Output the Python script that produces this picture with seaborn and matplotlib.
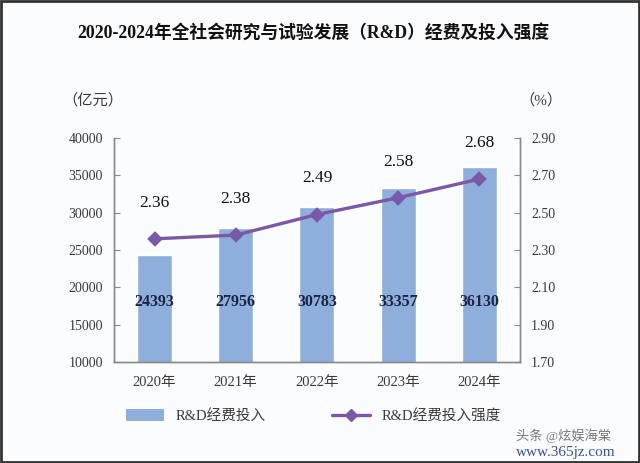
import pandas as pd
import seaborn as sns
import matplotlib.pyplot as plt
from matplotlib.patches import Patch, Rectangle
from matplotlib.lines import Line2D

sns.set_style("white")
plt.rcParams['font.family'] = ['Liberation Serif', 'Noto Sans CJK SC', 'DejaVu Sans']

years = ["2020年", "2021年", "2022年", "2023年", "2024年"]
rd_spend = [24393, 27956, 30783, 33357, 36130]      # 亿元
rd_intensity = [2.36, 2.38, 2.49, 2.58, 2.68]       # %

df = pd.DataFrame({"year": years, "spend": rd_spend, "intensity": rd_intensity})

bar_color = "#8eaedb"
line_color = "#7a5aa6"
text_gray = "#3a3a3a"

fig = plt.figure(figsize=(6.4, 4.63), dpi=100, facecolor="#fbfcfe")
ax = fig.add_axes([0.178, 0.218, 0.6345, 0.484])
ax.set_facecolor("#fbfcfe")

##Bars
sns.barplot(data=df, x="year", y="spend", color=bar_color, width=0.43,
            saturation=1, ax=ax)
ax.set_ylim(10000, 40000)
ax.set_xlim(-0.5, 4.5)
ax.set_yticks(range(10000, 40001, 5000))
ax.set_xlabel("")
ax.set_ylabel("")
for i, v in enumerate(rd_spend):
    ax.text(i, 18000, str(v), ha="center", va="center", fontsize=11.5,
            fontweight="bold", color="#1c2445")

##Line on right axis
ax2 = ax.twinx()
sns.pointplot(data=df, x="year", y="intensity", color=line_color, marker="D",
              markersize=6, linewidth=2.4, ax=ax2)
ax2.set_ylim(1.70, 2.90)
ax2.set_yticks([1.70, 1.90, 2.10, 2.30, 2.50, 2.70, 2.90])
ax2.set_yticklabels(["%.2f" % t for t in ax2.get_yticks()])
ax2.set_xlim(-0.5, 4.5)
ax2.set_ylabel("")
ax2.set_xlabel("")
for i, v in enumerate(rd_intensity):
    ax2.annotate("%.2f" % v, (i, v), xytext=(0, 26), textcoords="offset points",
                 ha="center", va="center", fontsize=12.5, color="#111111")

##Spines and ticks
for a in (ax, ax2):
    a.spines["top"].set_visible(False)
    for s in ("left", "right", "bottom"):
        a.spines[s].set_color("#8a8a8a")
        a.spines[s].set_linewidth(1.0)
ax.tick_params(axis="y", direction="in", length=4, color="#8a8a8a",
               labelsize=10, labelcolor=text_gray, pad=8)
ax.tick_params(axis="x", length=0, labelsize=10.5, labelcolor=text_gray, pad=10)
ax2.tick_params(axis="y", direction="in", length=4, color="#8a8a8a",
                labelsize=10, labelcolor=text_gray, pad=8)

##Titles and unit labels
fig.text(0.49, 0.929, "2020-2024年全社会研究与试验发展（R&D）经费及投入强度",
         ha="center", va="center", fontsize=12.8, fontweight="bold", color="#111111")
fig.text(0.145, 0.784, "（亿元）", ha="center", va="center", fontsize=11, color=text_gray)
fig.text(0.845, 0.784, "（%）", ha="center", va="center", fontsize=11, color=text_gray)

##Legend
handles = [Patch(facecolor=bar_color, edgecolor="none"),
           Line2D([0], [0], color=line_color, lw=2.4, marker="D", markersize=6)]
fig.legend(handles, ["R&D经费投入", "R&D经费投入强度"], loc="center",
           bbox_to_anchor=(0.49, 0.101), ncol=2, frameon=False, fontsize=10.5,
           handlelength=2.6, handleheight=0.9, columnspacing=4.5,
           labelcolor=text_gray)

##Watermark
fig.text(0.955, 0.058, "头条 @炫娱海棠", ha="right", va="center", fontsize=9.5,
         color="#555555", alpha=0.8)
fig.text(0.962, 0.022, "www.365jz.com", ha="right", va="center", fontsize=11,
         color="#1f3f8f", alpha=0.9)

##Frame around the image
fig.patches.append(Rectangle((0.002, 0.003), 0.996, 0.994, transform=fig.transFigure,
                             fill=False, edgecolor="#333333", linewidth=2))

fig.savefig("out.png", dpi=100, facecolor=fig.get_facecolor())
